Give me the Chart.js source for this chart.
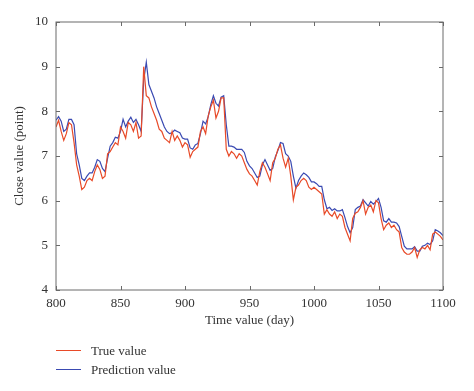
<!DOCTYPE html>
<html>
<head>
<meta charset="utf-8">
<script src="https://cdn.jsdelivr.net/npm/chart.js@4/dist/chart.umd.min.js"></script>
<style>
  html, body { margin: 0; padding: 0; background: #fff; }
  #wrap { position: relative; width: 474px; height: 391px; }
  #legend { position: absolute; left: 56px; top: 341px; font-family: "Liberation Serif", "DejaVu Serif", serif; font-size: 13px; color: #333; }
  .row { display: flex; align-items: center; height: 19px; }
  .swatch { width: 25px; height: 0; border-top: 1.3px solid; margin-right: 10px; }
</style>
</head>
<body>
<div id="wrap">
  <canvas id="grafico" width="474" height="391"></canvas>
  <div id="legend"></div>
</div>
<script>
// dias (eixo x), de 2 em 2
const dias = [
  800,802,804,806,808,810,812,814,816,818,820,822,824,826,828,830,832,834,836,838,
  840,842,844,846,848,850,852,854,856,858,860,862,864,866,868,870,872,874,876,878,
  880,882,884,886,888,890,892,894,896,898,900,902,904,906,908,910,912,914,916,918,
  920,922,924,926,928,930,932,934,936,938,940,942,944,946,948,950,952,954,956,958,
  960,962,964,966,968,970,972,974,976,978,980,982,984,986,988,990,992,994,996,998,
  1000,1002,1004,1006,1008,1010,1012,1014,1016,1018,1020,1022,1024,1026,1028,1030,1032,1034,1036,1038,
  1040,1042,1044,1046,1048,1050,1052,1054,1056,1058,1060,1062,1064,1066,1068,1070,1072,1074,1076,1078,
  1080,1082,1084,1086,1088,1090,1092,1094,1096,1098,1100
];

// valor real (linha vermelha)
const valorReal = [
  7.65,7.8,7.55,7.35,7.5,7.75,7.7,7.3,6.8,6.55,6.25,6.3,6.45,6.5,6.45,6.65,6.8,6.7,6.5,6.55,
  7.05,7.1,7.2,7.3,7.25,7.65,7.55,7.4,7.75,7.7,7.55,7.75,7.4,7.45,9.0,8.35,8.3,8.1,7.95,7.8,
  7.6,7.55,7.4,7.35,7.3,7.55,7.35,7.45,7.35,7.2,7.3,7.25,6.97,7.1,7.15,7.2,7.55,7.65,7.5,7.9,
  8.1,8.25,7.85,8.0,8.3,8.3,7.15,7.0,7.1,7.05,6.95,7.05,7.0,6.85,6.7,6.6,6.55,6.45,6.35,6.65,
  6.85,6.75,6.6,6.45,6.85,6.95,7.15,7.25,6.95,6.75,6.95,6.55,6.02,6.3,6.35,6.45,6.5,6.45,6.3,6.25,
  6.3,6.25,6.2,6.15,5.7,5.8,5.7,5.65,5.75,5.6,5.7,5.65,5.4,5.25,5.1,5.6,5.72,5.75,5.85,6.0,
  5.7,5.85,5.9,5.75,6.0,5.95,5.6,5.35,5.45,5.5,5.4,5.45,5.35,5.3,4.95,4.85,4.8,4.8,4.85,4.95,
  4.73,4.9,4.95,4.92,5.0,4.9,5.25,5.3,5.25,5.2,5.12
];

// valor previsto (linha azul)
const valorPrevisto = [
  7.8,7.88,7.78,7.55,7.6,7.82,7.82,7.7,7.05,6.8,6.5,6.45,6.55,6.62,6.62,6.75,6.92,6.88,6.72,6.65,
  6.95,7.22,7.3,7.42,7.4,7.55,7.82,7.65,7.78,7.87,7.75,7.82,7.7,7.55,8.7,9.1,8.6,8.45,8.3,8.1,
  7.95,7.8,7.65,7.55,7.5,7.52,7.58,7.55,7.52,7.4,7.38,7.38,7.18,7.15,7.25,7.28,7.5,7.78,7.72,7.88,
  8.15,8.35,8.18,8.12,8.32,8.35,7.7,7.22,7.22,7.2,7.15,7.15,7.15,7.08,6.88,6.78,6.72,6.62,6.52,6.55,
  6.8,6.92,6.8,6.68,6.72,6.98,7.12,7.3,7.28,7.05,7.0,6.88,6.55,6.28,6.45,6.55,6.62,6.58,6.52,6.42,
  6.42,6.38,6.32,6.32,6.02,5.82,5.85,5.78,5.82,5.77,5.77,5.8,5.62,5.42,5.28,5.4,5.8,5.85,5.88,6.02,
  5.95,5.88,5.98,5.92,5.98,6.05,5.85,5.55,5.52,5.6,5.52,5.52,5.5,5.42,5.2,4.98,4.92,4.92,4.92,4.97,
  4.87,4.87,4.98,5.0,5.05,5.02,5.1,5.35,5.32,5.28,5.22
];

const ticksX = [800, 850, 900, 950, 1000, 1050, 1100];
const ticksY = [4, 5, 6, 7, 8, 9, 10];

const corReal = 'rgb(232, 74, 40)';
const corPrevisto = 'rgb(58, 74, 178)';
const fonte = '"Liberation Serif", "DejaVu Serif", serif';
const corTexto = '#333';

// caixa em volta do grafico com marcas para dentro
const caixaPlugin = {
  id: 'caixa',
  afterDraw(chart) {
    const { ctx, chartArea: a, scales } = chart;
    ctx.save();
    ctx.strokeStyle = '#6a6a6a';
    ctx.lineWidth = 1;
    ctx.strokeRect(a.left, a.top, a.right - a.left, a.bottom - a.top);
    const len = 4;
    ctx.beginPath();
    ticksX.forEach(v => {
      const px = Math.round(scales.x.getPixelForValue(v)) + 0.5;
      ctx.moveTo(px, a.bottom); ctx.lineTo(px, a.bottom - len);
      ctx.moveTo(px, a.top); ctx.lineTo(px, a.top + len);
    });
    ticksY.forEach(v => {
      const py = Math.round(scales.y.getPixelForValue(v)) + 0.5;
      ctx.moveTo(a.left, py); ctx.lineTo(a.left + len, py);
      ctx.moveTo(a.right, py); ctx.lineTo(a.right - len, py);
    });
    ctx.stroke();
    ctx.restore();
  }
};

const pontos = (vals) => dias.map((d, i) => ({ x: d, y: vals[i] }));

const ctx = document.getElementById('grafico');
const grafico = new Chart(ctx.getContext('2d'), {
  type: 'line',
  data: {
    datasets: [
      { label: 'True value', data: pontos(valorReal), borderColor: corReal, borderWidth: 1.2, pointRadius: 0, tension: 0, fill: false },
      { label: 'Prediction value', data: pontos(valorPrevisto), borderColor: corPrevisto, borderWidth: 1.2, pointRadius: 0, tension: 0, fill: false }
    ]
  },
  options: {
    responsive: false,
    animation: false,
    layout: { padding: { left: 0, top: 22, right: 31, bottom: 56 } },
    plugins: { legend: { display: false }, tooltip: { enabled: false } },
    scales: {
      x: {
        type: 'linear', min: 800, max: 1100,
        afterBuildTicks: (s) => { s.ticks = ticksX.map(v => ({ value: v })); },
        afterFit: (s) => { s.height = 45; },
        grid: { display: false, drawTicks: false },
        border: { display: false },
        ticks: { padding: 6, color: corTexto, font: { family: fonte, size: 13 }, maxRotation: 0, callback: (v) => String(v) },
        title: { display: true, text: 'Time value (day)', color: corTexto, font: { family: fonte, size: 13 }, padding: { bottom: 7 } }
      },
      y: {
        min: 4, max: 10,
        afterBuildTicks: (s) => { s.ticks = ticksY.map(v => ({ value: v })); },
        afterFit: (s) => { s.width = 56; },
        grid: { display: false, drawTicks: false },
        border: { display: false },
        ticks: { padding: 8, color: corTexto, font: { family: fonte, size: 13 }, callback: (v) => String(v) },
        title: { display: true, text: 'Close value (point)', color: corTexto, font: { family: fonte, size: 13 }, padding: { top: 12 } }
      }
    }
  },
  plugins: [caixaPlugin]
});

// legenda em html abaixo do grafico
const legenda = document.getElementById('legend');
grafico.data.datasets.forEach(ds => {
  const row = document.createElement('div');
  row.className = 'row';
  row.innerHTML = '<span class="swatch" style="border-color:' + ds.borderColor + '"></span><span>' + ds.label + '</span>';
  legenda.appendChild(row);
});
</script>
</body>
</html>
